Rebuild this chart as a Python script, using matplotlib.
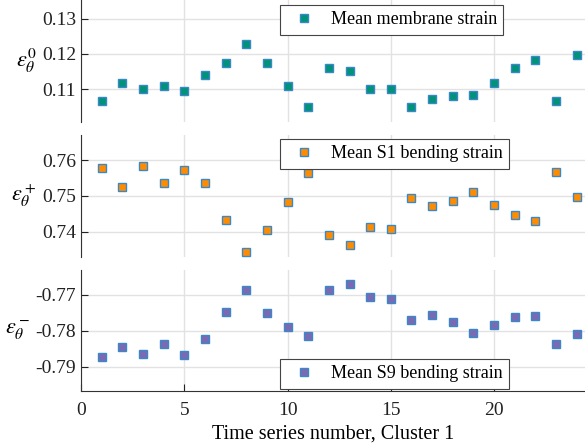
import numpy as np
import matplotlib
matplotlib.use("Agg")
import matplotlib.pyplot as plt

plt.rcParams['font.family'] = ['Liberation Serif', 'DejaVu Serif']
plt.rcParams['mathtext.fontset'] = 'stix'

# data
series = list(range(1, 25))
membrane = [0.1065, 0.1117, 0.1099, 0.1108, 0.1095, 0.1141, 0.1175, 0.1229,
            0.1175, 0.1110, 0.1048, 0.1161, 0.1151, 0.1100, 0.1099, 0.1049,
            0.1071, 0.1081, 0.1084, 0.1118, 0.1161, 0.1182, 0.1065, 0.1198]
s1_bending = [0.7578, 0.7525, 0.7583, 0.7536, 0.7572, 0.7536, 0.7432, 0.7344,
              0.7404, 0.7484, 0.7565, 0.7391, 0.7361, 0.7414, 0.7406, 0.7495,
              0.7472, 0.7486, 0.7511, 0.7475, 0.7446, 0.7430, 0.7567, 0.7496]
s9_bending = [-0.7872, -0.7845, -0.7864, -0.7837, -0.7868, -0.7824, -0.7747, -0.7687,
              -0.7749, -0.7788, -0.7815, -0.7686, -0.7670, -0.7706, -0.7712, -0.7769,
              -0.7757, -0.7774, -0.7806, -0.7784, -0.7761, -0.7760, -0.7836, -0.7808]

labels = ['Mean membrane strain', 'Mean S1 bending strain', 'Mean S9 bending strain']
ylabels = [r'$\varepsilon_\theta^0$', r'$\varepsilon_\theta^+$', r'$\varepsilon_\theta^-$']
colors = ['#00937a', '#ff8c00', '#7a6ab4']
yticks = [[0.11, 0.12, 0.13], [0.74, 0.75, 0.76], [-0.79, -0.78, -0.77]]
ytick_labels = [['0.11', '0.12', '0.13'], ['0.74', '0.75', '0.76'], ['-0.79', '-0.78', '-0.77']]
ylims = [(0.1006, 0.1354), (0.7329, 0.767), (-0.7968, -0.763)]
legend_anchor = [(0.395, 0.96), (0.395, 0.967), (0.395, 0.265)]

fig = plt.figure(figsize=(5.85, 4.46), dpi=100)
boxes = [[0.1385, 0.7265, 0.8615, 0.2735],
         [0.1385, 0.424, 0.8615, 0.273],
         [0.1385, 0.123, 0.8615, 0.272]]

for i, vals in enumerate([membrane, s1_bending, s9_bending]):
    ax = fig.add_axes(boxes[i])
    ax.plot(series, vals, linestyle='none', marker='s', markersize=6,
            markerfacecolor=colors[i], markeredgecolor='#3a88c8',
            markeredgewidth=1.0, label=labels[i])
    ax.set_xlim(0, 24.4)
    ax.set_ylim(*ylims[i])
    ax.set_yticks(yticks[i])
    ax.set_yticklabels(ytick_labels[i])
    ax.set_xticks([0, 5, 10, 15, 20])
    ax.grid(True, color='#e2e2e2', linewidth=1.0)
    ax.set_axisbelow(True)
    for s in ['top', 'right']:
        ax.spines[s].set_visible(False)
    ax.spines['left'].set_color('#333333')
    ax.spines['bottom'].set_color('#333333')
    ax.tick_params(direction='in', length=5, labelsize=14, colors='#222222')
    ax.tick_params(axis='x', pad=8)
    if i < 2:
        ax.spines['bottom'].set_visible(False)
        ax.tick_params(axis='x', bottom=False, labelbottom=False)
    else:
        ax.set_xlabel('Time series number, Cluster 1', fontsize=14.5, labelpad=4)
    ax.set_ylabel(ylabels[i], fontsize=16, rotation=0, labelpad=4,
                  ha='right', va='center')
    leg = ax.legend(loc='upper left', bbox_to_anchor=legend_anchor[i],
                    fontsize=13, fancybox=False, framealpha=1, edgecolor='#444444',
                    handlelength=2.0, handletextpad=0.45, borderpad=0.35,
                    borderaxespad=0.0)
    leg.get_frame().set_linewidth(0.8)

fig.savefig('out.png', dpi=100)
